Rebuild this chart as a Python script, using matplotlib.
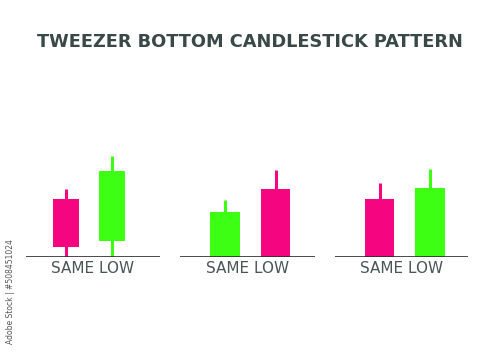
import matplotlib
matplotlib.use("Agg")
import matplotlib.pyplot as plt

# candle data per panel: (open, close, high, low), low is the shared "same low"
panel_names = ["SAME LOW", "SAME LOW", "SAME LOW"]
opens = [[58, 16], [0, 68], [58, 0]]
closes = [[10, 86], [45, 0], [0, 69]]
highs = [[68, 101], [57, 87], [74, 88]]
lows = [[0, 0], [0, 0], [0, 0]]

title = "TWEEZER BOTTOM CANDLESTICK PATTERN"

PINK = "#F5057F"
GREEN = "#3CFF14"
W, H = 500, 357

fig = plt.figure(figsize=(5.0, 3.57), dpi=100)
fig.patch.set_facecolor("white")

# panel layout in pixels: (left, right, baseline y, first candle centre, spacing, body width)
layout = [(26, 160, 256.7, 65.5, 46.5, 26),
          (180, 315, 256.7, 225, 50.5, 29.7),
          (335, 468, 257.0, 379.5, 50.5, 29.7)]
ax_h = 120  # pixels, 1 price unit = 1 px

for i, (left, right, base, c0, sp, bw) in enumerate(layout):
    ax = fig.add_axes([left / W, (H - base) / H, (right - left) / W, ax_h / H])
    ax.set_xlim((left - c0) / sp, (right - c0) / sp)
    ax.set_ylim(0, ax_h)
    ax.axis("off")
    for j in range(2):
        o, c, hi, lo = opens[i][j], closes[i][j], highs[i][j], lows[i][j]
        col = GREEN if c > o else PINK
        ax.vlines(j, lo, hi, color=col, lw=2.2, zorder=2)
        ax.bar(j, abs(c - o), bottom=min(o, c), width=bw / sp,
               color=col, zorder=3)
    ax.axhline(0, color="#2b2b2b", lw=1.2, zorder=4)
    fig.text((left + right) / 2 / W, 1 - 268.5 / H, panel_names[i],
             ha="center", va="center", fontsize=11, color="#4a5656",
             family="DejaVu Sans")

fig.text(0.5, 1 - 42 / H, title, ha="center", va="center",
         fontsize=12.8, fontweight="bold", color="#3a4848",
         family="DejaVu Sans")

fig.text(10.5 / W, 1 - 292 / H, "Adobe Stock | #508451024", rotation=90,
         ha="center", va="center", fontsize=5.5, color="#555555")

fig.savefig("out.png", dpi=100, facecolor="white")
